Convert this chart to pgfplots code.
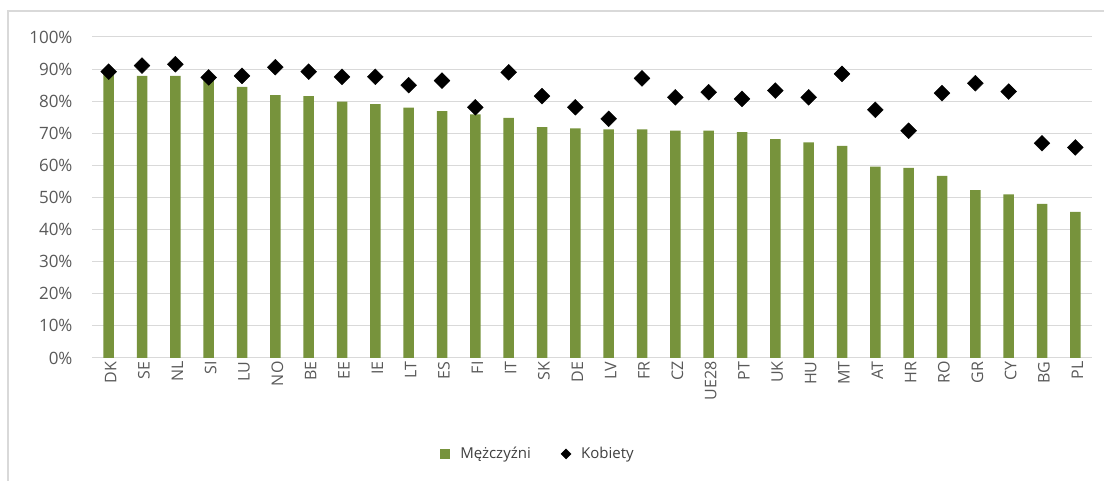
\documentclass[border=0pt]{standalone}
\usepackage{pgfplots}
\pgfplotsset{compat=1.18}
\usepackage{pgfplotstable}
\usepackage{fontspec}
\setmainfont{Open Sans}
\definecolor{barg}{RGB}{119,147,60}
\definecolor{gridc}{RGB}{217,217,217}
\definecolor{tickc}{RGB}{89,89,89}
\definecolor{legc}{RGB}{64,64,64}
\pgfplotstableread{
idx lab men women
0 DK 88.7 89.2
1 SE 87.9 91.1
2 NL 87.9 91.5
3 SI 86.9 87.4
4 LU 84.5 87.9
5 NO 81.9 90.6
6 BE 81.6 89.2
7 EE 79.9 87.6
8 IE 79.1 87.6
9 LT 78.0 85.0
10 ES 76.9 86.4
11 FI 75.9 78.1
12 IT 74.8 89.0
13 SK 71.9 81.6
14 DE 71.5 78.1
15 LV 71.2 74.5
16 FR 71.2 87.1
17 CZ 70.8 81.2
18 UE28 70.8 82.8
19 PT 70.4 80.7
20 UK 68.2 83.3
21 HU 67.2 81.2
22 MT 66.1 88.5
23 AT 59.6 77.3
24 HR 59.2 70.8
25 RO 56.7 82.5
26 GR 52.3 85.6
27 CY 51.0 83.0
28 BG 48.0 66.9
29 PL 45.5 65.6
}\datatable
\begin{document}
\begin{tikzpicture}
\useasboundingbox (0,0) rectangle (1104bp,481bp);
\draw[gridc, line width=1.5bp] (8bp,0) -- (8bp,470bp) -- (1104bp,470bp);
\begin{axis}[
  at={(92bp,123bp)}, anchor=south west,
  scale only axis, width=1000bp, height=321bp,
  xmin=-0.5, xmax=29.5, ymin=0, ymax=100,
  axis x line*=bottom, axis y line*=left,
  x axis line style={gridc, line width=1bp, -},
  y axis line style={draw=none},
  ymajorgrids, grid style={gridc, line width=1bp},
  ytick={0,10,...,100},
  xtick=data,
  xticklabels from table={\datatable}{lab},
  major tick length=0pt,
  yticklabel={\pgfmathprintnumber{\tick}\%},
  ticklabel style={font=\fontsize{16bp}{18bp}\selectfont, text=tickc},
  /pgf/number format/assume math mode=true,
  yticklabel style={xshift=-16bp, font=\fontsize{17bp}{19bp}\selectfont},
  xticklabel style={rotate=90, anchor=east, yshift=-2bp},
  legend style={draw=none, at={(0.446,-0.299)}, anchor=center,
    font=\fontsize{15bp}{17bp}\selectfont, text=legc,
    /tikz/every odd column/.append style={column sep=8bp},
    /tikz/every even column/.append style={column sep=28bp}},
  legend columns=2,
  clip=false,
]
\addplot[ybar, bar width=10.5bp, fill=barg, draw=none,
  legend image code/.code={\fill[barg] (0bp,-5bp) rectangle (10bp,5bp);}]
  table[x=idx, y=men] {\datatable};
\addlegendentry{Mężczyźni}
\addplot[only marks, mark=square*, mark size=5.6bp, mark options={rotate=45, fill=black, draw=black},
  legend image code/.code={\fill[black] (5bp,-5bp) -- (10bp,0bp) -- (5bp,5bp) -- (0bp,0bp) -- cycle;}]
  table[x=idx, y=women] {\datatable};
\addlegendentry{Kobiety}
\end{axis}
\end{tikzpicture}
\end{document}
